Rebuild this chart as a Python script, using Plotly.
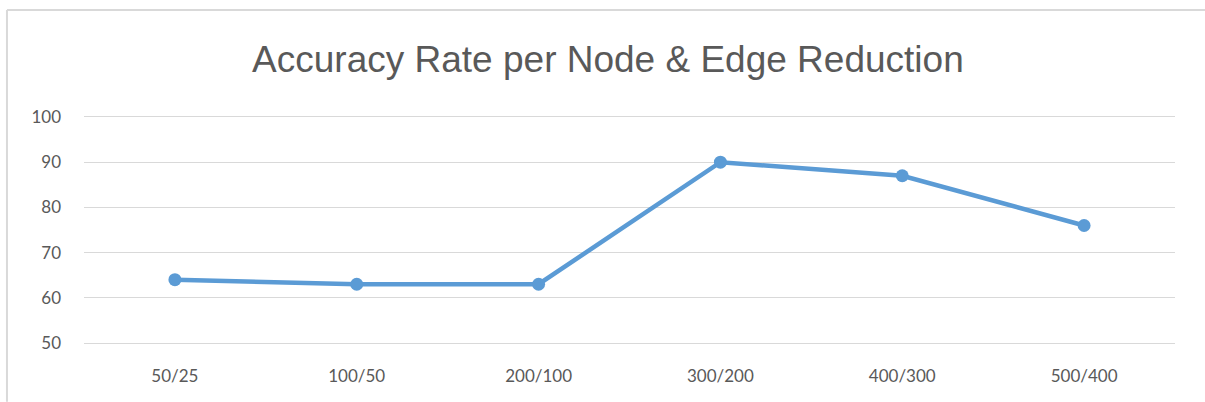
import plotly.graph_objects as go

categories = ["50/25", "100/50", "200/100", "300/200", "400/300", "500/400"]
accuracy = [64, 63, 63, 90, 87, 76]
y_ticks = [50, 60, 70, 80, 90, 100]

fig = go.Figure()
fig.add_trace(go.Scatter(
    x=categories, y=accuracy, mode="lines+markers",
    line=dict(color="#5b9bd5", width=4.5),
    marker=dict(color="#5b9bd5", size=13),
    showlegend=False, cliponaxis=False,
))

border = dict(color="#d9d9d9", width=2)
fig.update_layout(
    width=1205, height=402,
    margin=dict(l=84, r=30, t=117, b=59),
    paper_bgcolor="white", plot_bgcolor="white",
    title=dict(text="Accuracy Rate per Node & Edge Reduction",
               x=0.5045, xref="container", xanchor="center",
               y=1 - 59 / 402, yref="container", yanchor="middle",
               font=dict(family="Liberation Sans, Arial", size=37, color="#595959")),
    xaxis=dict(type="category", range=[-0.5, 5.5], showgrid=False, zeroline=False,
               showline=True, mirror=True, linecolor="#d9d9d9", linewidth=1.2,
               ticks="", tickfont=dict(family="Lato, Calibri", size=17, color="#595959"),
               ticklabelstandoff=17),
    yaxis=dict(range=[50, 100], tickvals=y_ticks, showgrid=True, gridcolor="#d9d9d9",
               gridwidth=1.2, zeroline=False, showline=False, ticks="",
               tickfont=dict(family="Lato, Calibri", size=17, color="#595959"),
               ticklabelstandoff=22),
    shapes=[
        dict(type="line", xref="paper", yref="paper",
             x0=-0.0706, x1=-0.0706, y0=-0.26, y1=1.4735, line=border, layer="below"),
        dict(type="line", xref="paper", yref="paper",
             x0=-0.0706, x1=1.0345, y0=1.4735, y1=1.4735, line=border, layer="below"),
    ],
)

fig.write_html("out.html", config={"displayModeBar": False},
               post_script="document.body.style.margin='0';"
                           "document.body.style.overflow='hidden';"
                           "document.documentElement.style.overflow='hidden';")
